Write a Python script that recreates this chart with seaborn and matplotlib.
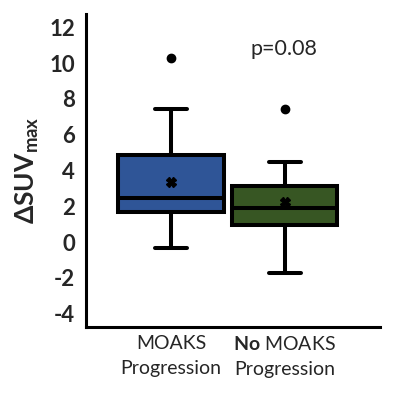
import numpy as np
import pandas as pd
import seaborn as sns
import matplotlib.pyplot as plt

# groups and values (13 per group so quartiles sit on samples)
groups = ["MOAKS\nProgression", "$\\mathbf{No}$ MOAKS\nProgression"]
moaks_prog = [-0.34, 0.5, 1.2, 1.68, 1.9, 2.2, 2.46, 2.8, 3.5, 4.86, 5.06, 7.43, 10.3]
no_moaks_prog = [-1.73, 0.2, 0.7, 0.95, 1.2, 1.6, 1.9, 2.3, 2.9, 3.13, 3.94, 4.47, 7.43]
box_colors = ["#2F5597", "#375623"]
p_text = "p=0.08"

df = pd.DataFrame({
    "group": [groups[0]] * len(moaks_prog) + [groups[1]] * len(no_moaks_prog),
    "dsuv": moaks_prog + no_moaks_prog,
})

sns.set_style("white")
plt.rcParams["font.family"] = ["Lato", "DejaVu Sans"]
plt.rcParams["mathtext.fontset"] = "custom"
plt.rcParams["mathtext.rm"] = "Lato"
plt.rcParams["mathtext.bf"] = "Lato:bold"
plt.rcParams["mathtext.it"] = "Lato:italic"

fig = plt.figure(figsize=(4, 3.98), dpi=100)
ax = fig.add_axes([0.215, 0.178, 0.735, 0.787])

lw = 2.9
sns.boxplot(data=df, x="group", y="dsuv", hue="group", palette=box_colors,
            saturation=1, width=0.93, linewidth=lw, linecolor="black",
            legend=False, showmeans=True, capwidths=0.28,
            meanprops=dict(marker="X", markerfacecolor="black",
                           markeredgecolor="black", markersize=7),
            flierprops=dict(marker="o", markerfacecolor="black",
                            markeredgecolor="black", markersize=6),
            whiskerprops=dict(linewidth=lw, color="black"),
            capprops=dict(linewidth=lw, color="black"),
            medianprops=dict(linewidth=lw, color="black"),
            ax=ax)

ax.set_xlim(-0.75, 1.84)
ax.set_ylim(-4.75, 12.74)
ax.set_yticks(range(-4, 13, 2))
ax.set_yticklabels([str(v) for v in range(-4, 13, 2)], fontsize=16, fontweight="bold")
ax.set_xticks([0, 1])
ax.set_xticklabels(groups, fontsize=14, linespacing=1.55)
ax.tick_params(axis="x", length=0, pad=6)
ax.tick_params(axis="y", length=0, pad=8)
ax.set_xlabel("")
ax.set_ylabel(r"$\mathbf{\Delta SUV_{max}}$", fontsize=19, labelpad=6)

for s in ["top", "right"]:
    ax.spines[s].set_visible(False)
for s in ["left", "bottom"]:
    ax.spines[s].set_linewidth(2.2)
    ax.spines[s].set_color("black")

ax.text(0.99, 10.8, p_text, ha="center", va="center", fontsize=15.5)

fig.savefig("out.png", dpi=100)
